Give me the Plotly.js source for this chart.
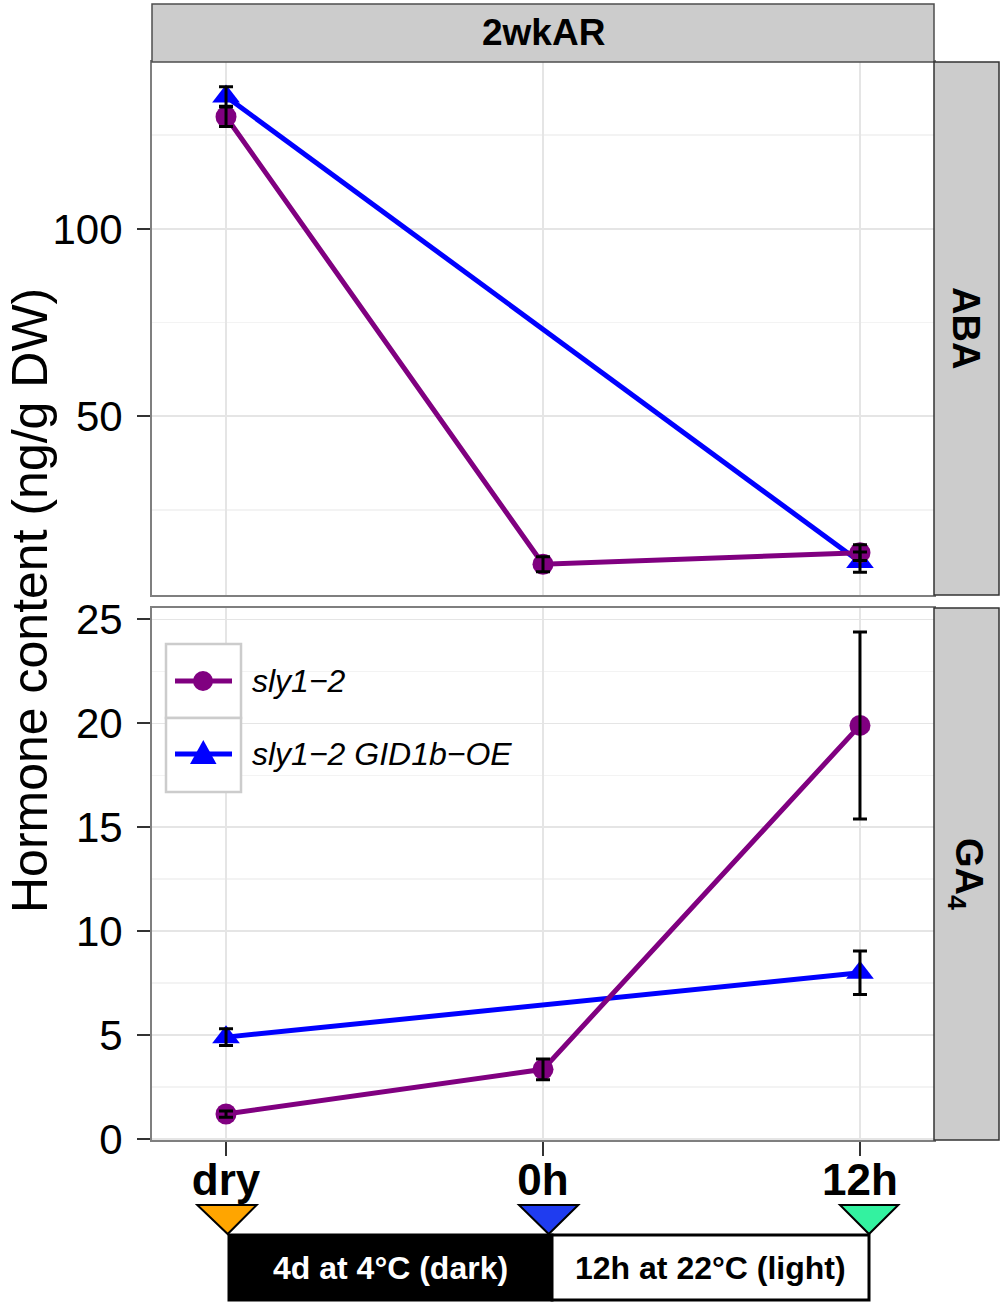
<!DOCTYPE html>
<html>
<head>
<meta charset="utf-8">
<script src="https://cdn.plot.ly/plotly-3.0.1.min.js"></script>
<style>html,body{margin:0;padding:0;background:#fff;}#chart{width:1004px;height:1306px;}</style>
</head>
<body>
<div id="chart"></div>
<script>
// ---------- data ----------
const timepoints = ['dry', '0h', '12h'];
const slyTimes = ['dry', '0h', '12h'];
const gidTimes = ['dry', '12h'];

const slyABA = [129.9, 10.5, 13.6];
const slyABAerr = [2.6, 2.0, 2.1];
const gidABA = [135.3, 11.1];
const gidABAerr = [2.6, 2.7];

const slyGA4 = [1.2, 3.35, 19.9];
const slyGA4err = [0.15, 0.5, 4.5];
const gidGA4 = [4.9, 8.0];
const gidGA4err = [0.4, 1.05];

const seriesNames = ['sly1\u22122', 'sly1\u22122 GID1b\u2212OE'];
const seriesColors = ['#800080', '#0000FF'];
const facetTop = '2wkAR';
const facetRows = ['ABA', 'GA<sub>4</sub>'];
const yTitle = 'Hormone content (ng/g DW)';
const stageLabels = ['4d at 4\u00B0C (dark)', '12h at 22\u00B0C (light)'];
const markerColors = ['#FFA500', '#1F3CF0', '#33F2A0'];

// ---------- helpers ----------
const W = 1004, H = 1306;
const px = x => x / W;
const py = y => 1 - y / H;
const FONT = 'Liberation Sans, Arial, Helvetica, sans-serif';

function lineTrace(x, y, name, color, symbol, size, xa, ya) {
  return {
    type: 'scatter', mode: 'lines+markers', x: x, y: y, name: name,
    xaxis: xa, yaxis: ya, showlegend: false, hoverinfo: 'skip',
    line: {color: color, width: 5},
    marker: {color: color, symbol: symbol, size: size, line: {width: 0}}
  };
}
function errTrace(x, y, err, xa, ya) {
  return {
    type: 'scatter', mode: 'markers', x: x, y: y, xaxis: xa, yaxis: ya,
    showlegend: false, hoverinfo: 'skip',
    marker: {color: 'rgba(0,0,0,0)', size: 1},
    error_y: {type: 'data', array: err, visible: true, color: '#000', thickness: 3, width: 7}
  };
}

const data = [
  lineTrace(gidTimes, gidABA, seriesNames[1], seriesColors[1], 'triangle-up', 24, 'x2', 'y2'),
  lineTrace(slyTimes, slyABA, seriesNames[0], seriesColors[0], 'circle', 21, 'x2', 'y2'),
  errTrace(gidTimes, gidABA, gidABAerr, 'x2', 'y2'),
  errTrace(slyTimes, slyABA, slyABAerr, 'x2', 'y2'),
  lineTrace(gidTimes, gidGA4, seriesNames[1], seriesColors[1], 'triangle-up', 24, 'x', 'y'),
  lineTrace(slyTimes, slyGA4, seriesNames[0], seriesColors[0], 'circle', 21, 'x', 'y'),
  errTrace(gidTimes, gidGA4, gidGA4err, 'x', 'y'),
  errTrace(slyTimes, slyGA4, slyGA4err, 'x', 'y')
];

const xDomain = [px(152), px(934)];
const xRange = [-0.2335, 2.2335];
const gridMajor = '#e5e5e5';
const gridMinor = '#f3f3f3';
const frame = '#7f7f7f';

function xAxis(anchor, showLabels) {
  return {
    domain: xDomain, anchor: anchor, type: 'category',
    categoryorder: 'array', categoryarray: timepoints, range: xRange,
    showgrid: true, gridcolor: gridMajor, gridwidth: 1.5, zeroline: false,
    showline: true, mirror: true, linecolor: frame, linewidth: 2,
    ticks: showLabels ? 'outside' : '', ticklen: 14, tickwidth: 2, tickcolor: '#333',
    showticklabels: showLabels,
    ticklabelstandoff: -14,
    tickfont: {family: FONT, size: 44, color: '#000', weight: 'bold'}
  };
}
function yAxis(anchor, dom, range, dtick) {
  return {
    domain: dom, anchor: anchor, range: range, tick0: 0, dtick: dtick,
    showgrid: true, gridcolor: gridMajor, gridwidth: 1.5, zeroline: false,
    minor: {dtick: dtick / 2, tick0: 0, showgrid: true, gridcolor: gridMinor, gridwidth: 1.5, ticks: ''},
    showline: true, mirror: true, linecolor: frame, linewidth: 2,
    ticks: 'outside', ticklen: 13, tickwidth: 2, tickcolor: '#333',
    ticklabelstandoff: 6,
    tickfont: {family: FONT, size: 42, color: '#000'}
  };
}

const shapes = [];
const annotations = [];

// strips
shapes.push({type: 'rect', xref: 'paper', yref: 'paper', x0: px(152), x1: px(934), y0: py(62), y1: py(4),
  fillcolor: '#cccccc', line: {color: '#4d4d4d', width: 1.5}, layer: 'above'});
shapes.push({type: 'rect', xref: 'paper', yref: 'paper', x0: px(934), x1: px(999), y0: py(595), y1: py(62),
  fillcolor: '#cccccc', line: {color: '#333', width: 1.5}, layer: 'above'});
shapes.push({type: 'rect', xref: 'paper', yref: 'paper', x0: px(934), x1: px(999), y0: py(1140), y1: py(608),
  fillcolor: '#cccccc', line: {color: '#333', width: 1.5}, layer: 'above'});
annotations.push({xref: 'paper', yref: 'paper', x: px(543), y: py(33), text: facetTop, showarrow: false,
  xanchor: 'center', yanchor: 'middle', font: {family: FONT, size: 37, color: '#000', weight: 'bold'}});
annotations.push({xref: 'paper', yref: 'paper', x: px(966), y: py(328), text: facetRows[0], showarrow: false,
  textangle: 90, xanchor: 'center', yanchor: 'middle', font: {family: FONT, size: 38, color: '#000', weight: 'bold'}});
annotations.push({xref: 'paper', yref: 'paper', x: px(966), y: py(874), text: facetRows[1], showarrow: false,
  textangle: 90, xanchor: 'center', yanchor: 'middle', font: {family: FONT, size: 38, color: '#000', weight: 'bold'}});
// y title
annotations.push({xref: 'paper', yref: 'paper', x: px(30), y: py(601), text: yTitle, showarrow: false,
  textangle: -90, xanchor: 'center', yanchor: 'middle', font: {family: FONT, size: 50, color: '#000'}});

// legend (drawn as keys)
const legTop = 644, keyH = 74, legL = 166, legR = 241;
const keyY = [681, 754];
for (let i = 0; i < 2; i++) {
  shapes.push({type: 'rect', xref: 'paper', yref: 'paper', x0: px(legL), x1: px(legR),
    y0: py(legTop + keyH * (i + 1)), y1: py(legTop + keyH * i),
    fillcolor: '#ffffff', line: {color: '#cccccc', width: 2.5}, layer: 'above'});
  shapes.push({type: 'line', xref: 'paper', yref: 'paper', x0: px(175), x1: px(232), y0: py(keyY[i]), y1: py(keyY[i]),
    line: {color: seriesColors[i], width: 5}, layer: 'above'});
  annotations.push({xref: 'paper', yref: 'paper', x: px(250), y: py(keyY[i]), text: '<i>' + seriesNames[i] + '</i>',
    showarrow: false, xanchor: 'left', yanchor: 'middle', font: {family: FONT, size: 32, color: '#000'}});
}
shapes.push({type: 'circle', xref: 'paper', yref: 'paper', x0: px(193), x1: px(213), y0: py(691), y1: py(671),
  fillcolor: seriesColors[0], line: {width: 0}, layer: 'above'});
shapes.push({type: 'path', xref: 'paper', yref: 'paper',
  path: 'M' + px(190) + ',' + py(764) + ' L' + px(216.5) + ',' + py(764) + ' L' + px(203.3) + ',' + py(740) + ' Z',
  fillcolor: seriesColors[1], line: {width: 0}, layer: 'above'});

// timeline under the x axis
const triX = [[197.3, 256.7, 227.7], [519, 578.3, 548.7], [840, 898.3, 869]];
for (let i = 0; i < 3; i++) {
  const t = triX[i];
  shapes.push({type: 'path', xref: 'paper', yref: 'paper',
    path: 'M' + px(t[0]) + ',' + py(1205) + ' L' + px(t[1]) + ',' + py(1205) + ' L' + px(t[2]) + ',' + py(1234) + ' Z',
    fillcolor: markerColors[i], line: {color: '#000', width: 2}, layer: 'above'});
}
shapes.push({type: 'rect', xref: 'paper', yref: 'paper', x0: px(229), x1: px(552), y0: py(1300), y1: py(1235),
  fillcolor: '#000', line: {color: '#000', width: 3}, layer: 'above'});
shapes.push({type: 'rect', xref: 'paper', yref: 'paper', x0: px(552), x1: px(869), y0: py(1300), y1: py(1235),
  fillcolor: '#fff', line: {color: '#000', width: 3}, layer: 'above'});
annotations.push({xref: 'paper', yref: 'paper', x: px(390.5), y: py(1268), text: '<b>' + stageLabels[0] + '</b>',
  showarrow: false, xanchor: 'center', yanchor: 'middle', font: {family: FONT, size: 32, color: '#fff'}});
annotations.push({xref: 'paper', yref: 'paper', x: px(710.5), y: py(1268), text: '<b>' + stageLabels[1] + '</b>',
  showarrow: false, xanchor: 'center', yanchor: 'middle', font: {family: FONT, size: 32, color: '#000'}});

const layout = {
  width: W, height: H,
  margin: {l: 0, r: 0, t: 0, b: 0, pad: 0},
  paper_bgcolor: '#fff', plot_bgcolor: '#fff',
  showlegend: false,
  xaxis: xAxis('y', true),
  xaxis2: Object.assign(xAxis('y2', false), {matches: 'x'}),
  yaxis: yAxis('x', [py(1140), py(608)], [-0.05, 25.55], 5),
  yaxis2: yAxis('x2', [py(595), py(62)], [2.3, 144.5], 50),
  shapes: shapes,
  annotations: annotations
};

Plotly.newPlot('chart', data, layout, {staticPlot: true, displayModeBar: false});
</script>
</body>
</html>
